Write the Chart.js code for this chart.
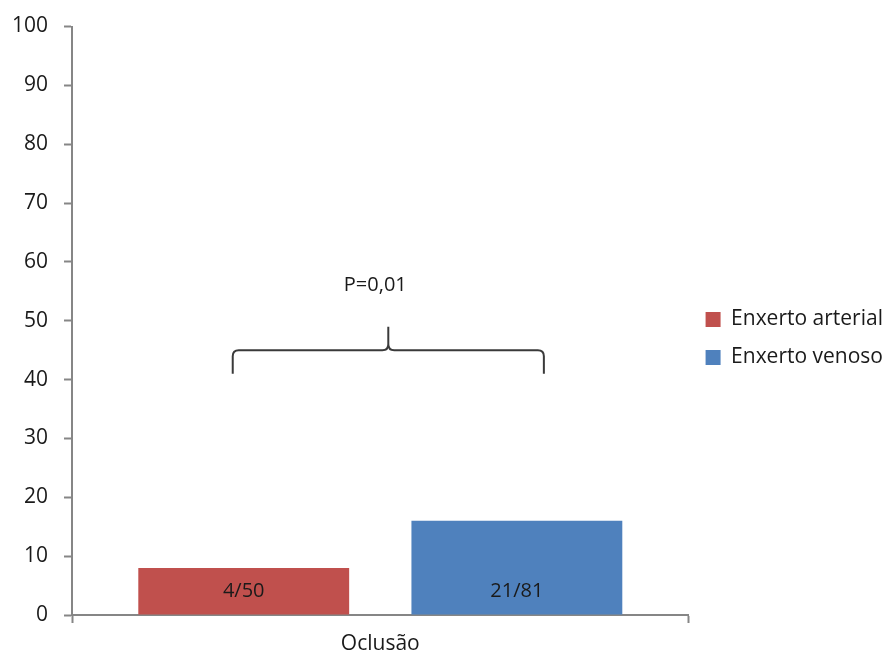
<!DOCTYPE html>
<html>
<head>
<meta charset="utf-8">
<script src="https://cdn.jsdelivr.net/npm/chart.js@4/dist/chart.umd.min.js"></script>
<style>
  html, body { margin: 0; padding: 0; background: #fff; }
  #wrap { width: 891px; height: 656px; }
</style>
</head>
<body>
<div id="wrap"><canvas id="chart" width="891" height="656"></canvas></div>
<script>
// Données du graphique
const categories = ["Oclusão"];
const seriesNames = ["Enxerto arterial", "Enxerto venoso"];
const arterialValues = [8];
const venosoValues = [16];
const barLabels = ["4/50", "21/81"];
const pValueText = "P=0,01";
const yTicksMax = 100;
const yTicksStep = 10;

const red = "#C0504D";
const blue = "#4F81BD";
const axisGray = "#868686";
const textColor = "#1a1a1a";
const fontFamily = "'Open Sans', 'DejaVu Sans', sans-serif";

// Étiquettes dans les barres + accolade avec la valeur p
const annotationsPlugin = {
    id: "annotations",
    afterDatasetsDraw(chart) {
        const ctx = chart.ctx;
        const yScale = chart.scales.y;
        const base = yScale.getPixelForValue(0);

        ctx.save();
        ctx.font = "20px " + fontFamily;
        ctx.fillStyle = textColor;
        ctx.textAlign = "center";
        ctx.textBaseline = "middle";
        chart.data.datasets.forEach((ds, i) => {
            const bar = chart.getDatasetMeta(i).data[0];
            ctx.fillText(barLabels[i], bar.x, base - 24);
        });

        // accolade
        const b0 = chart.getDatasetMeta(0).data[0];
        const b1 = chart.getDatasetMeta(1).data[0];
        const x1 = b0.x - 11;
        const x2 = b1.x + 27;
        const xm = (x1 + x2) / 2;
        const yLine = yScale.getPixelForValue(45);
        const yEnd = yScale.getPixelForValue(41);
        const yTip = yScale.getPixelForValue(49);
        const r = 6;
        ctx.strokeStyle = "#3a3a3a";
        ctx.lineWidth = 2;
        ctx.beginPath();
        ctx.moveTo(x1, yEnd);
        ctx.lineTo(x1, yLine + r);
        ctx.quadraticCurveTo(x1, yLine, x1 + r, yLine);
        ctx.lineTo(xm - r, yLine);
        ctx.quadraticCurveTo(xm, yLine, xm, yLine - r);
        ctx.lineTo(xm, yTip);
        ctx.moveTo(xm, yLine - r);
        ctx.quadraticCurveTo(xm, yLine, xm + r, yLine);
        ctx.lineTo(x2 - r, yLine);
        ctx.quadraticCurveTo(x2, yLine, x2, yLine + r);
        ctx.lineTo(x2, yEnd);
        ctx.stroke();

        ctx.fillStyle = textColor;
        ctx.font = "20px " + fontFamily;
        ctx.fillText(pValueText, xm - 13, yScale.getPixelForValue(56));
        ctx.restore();
    }
};

const ctx = document.getElementById("chart").getContext("2d");
new Chart(ctx, {
    type: "bar",
    data: {
        labels: categories,
        datasets: [
            { label: seriesNames[0], data: arterialValues, backgroundColor: red },
            { label: seriesNames[1], data: venosoValues, backgroundColor: blue },
        ],
    },
    options: {
        responsive: false,
        animation: false,
        devicePixelRatio: 1,
        layout: { padding: { top: 11, right: -2, bottom: -10, left: -4 } },
        datasets: {
            bar: { categoryPercentage: 0.886, barPercentage: 0.772 },
        },
        plugins: {
            legend: {
                position: "right",
                labels: {
                    boxWidth: 15,
                    boxHeight: 15,
                    padding: 17,
                    color: textColor,
                    font: { size: 21, family: fontFamily },
                },
            },
            tooltip: { enabled: false },
        },
        scales: {
            x: {
                grid: {
                    drawOnChartArea: false,
                    tickColor: axisGray,
                    tickLength: 8,
                    tickWidth: 2,
                },
                border: { color: axisGray, width: 2 },
                ticks: { color: textColor, padding: 11, font: { size: 21, family: fontFamily, lineHeight: 1 } },
            },
            y: {
                min: 0,
                max: yTicksMax,
                grid: {
                    drawOnChartArea: false,
                    tickColor: axisGray,
                    tickLength: 8,
                    tickWidth: 2,
                },
                border: { color: axisGray, width: 2 },
                ticks: {
                    stepSize: yTicksStep,
                    color: textColor,
                    padding: 16,
                    font: { size: 21, family: fontFamily, lineHeight: 1 },
                },
            },
        },
    },
    plugins: [annotationsPlugin],
});
</script>
</body>
</html>
